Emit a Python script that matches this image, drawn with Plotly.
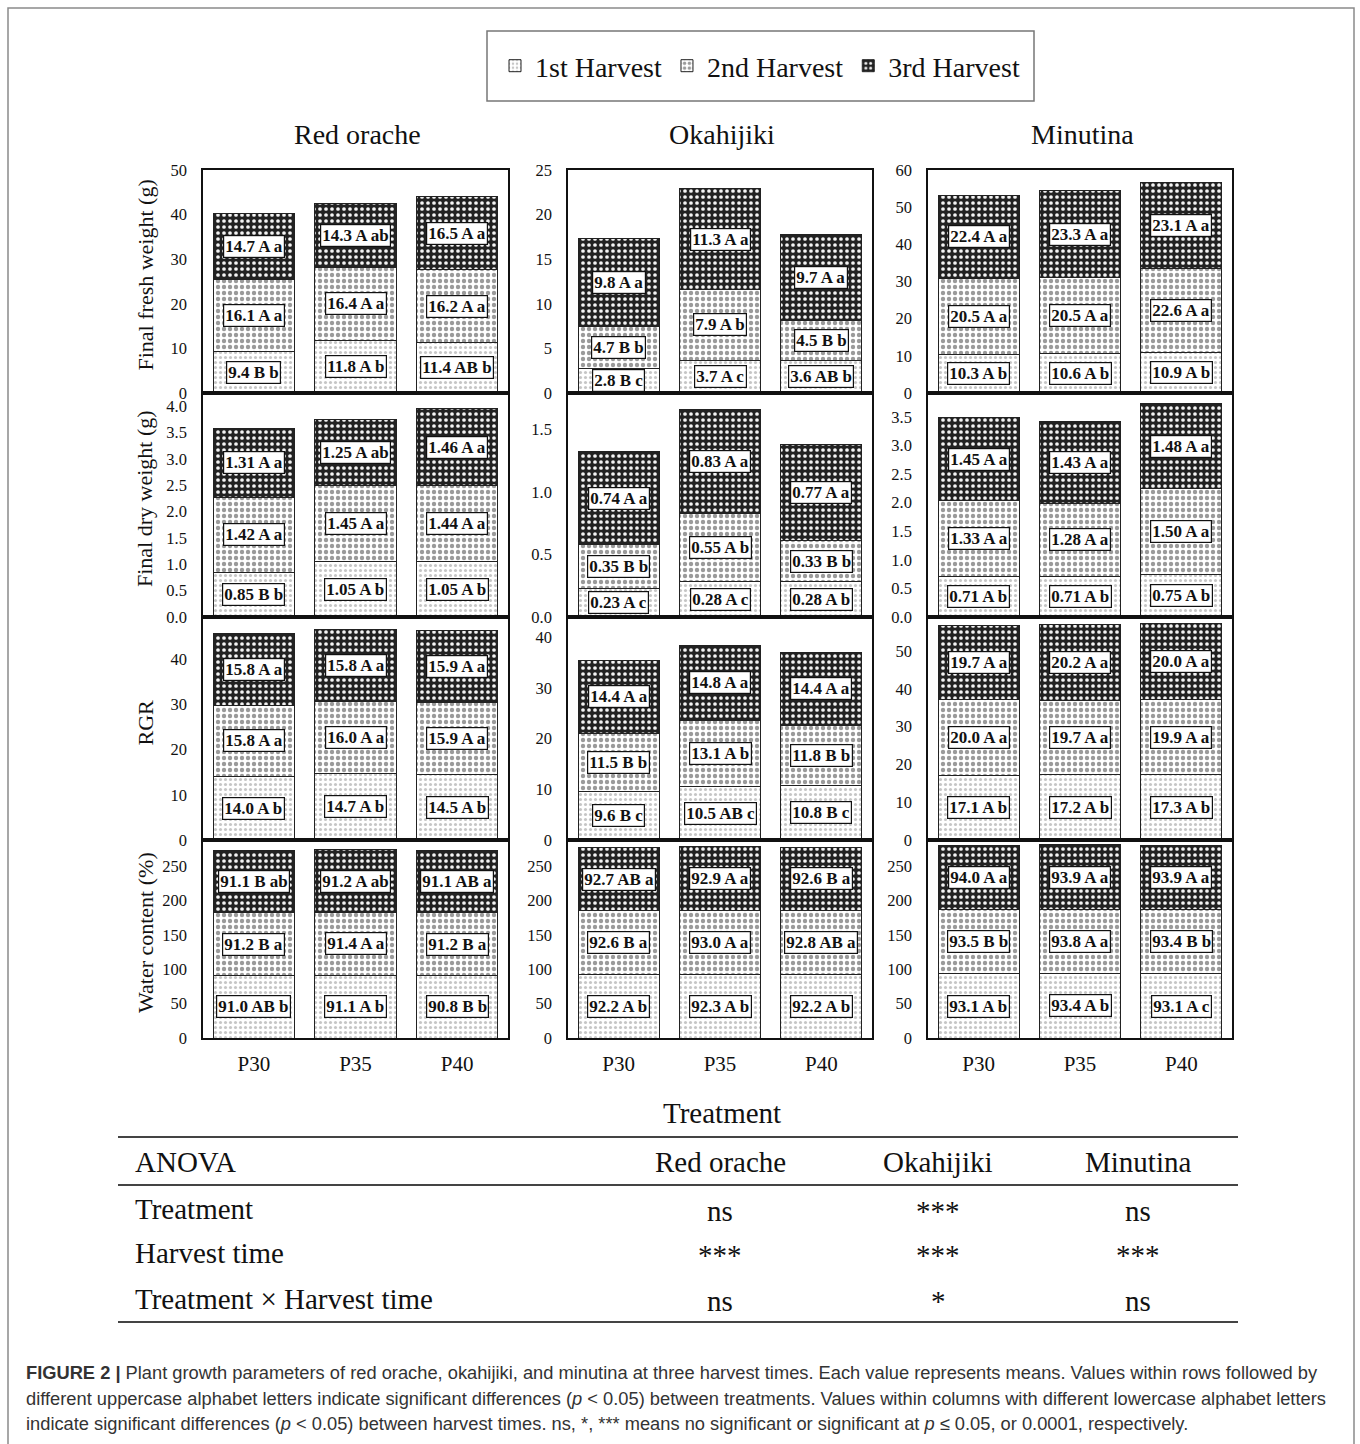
import plotly.graph_objects as go
from plotly.subplots import make_subplots

W, H = 1360, 1444

species = ["Red orache", "Okahijiki", "Minutina"]
treatments = ["P30", "P35", "P40"]
harvests = ["1st Harvest", "2nd Harvest", "3rd Harvest"]
parameters = ["Final fresh weight (g)", "Final dry weight (g)", "RGR", "Water content (%)"]
decimals = [1, 2, 1, 1]

# values are [species][harvest][treatment]
fresh_weight = [
    [[9.4, 11.8, 11.4], [16.1, 16.4, 16.2], [14.7, 14.3, 16.5]],
    [[2.8, 3.7, 3.6], [4.7, 7.9, 4.5], [9.8, 11.3, 9.7]],
    [[10.3, 10.6, 10.9], [20.5, 20.5, 22.6], [22.4, 23.3, 23.1]],
]
fresh_letters = [
    [["B b", "A b", "AB b"], ["A a", "A a", "A a"], ["A a", "A ab", "A a"]],
    [["B c", "A c", "AB b"], ["B b", "A b", "B b"], ["A a", "A a", "A a"]],
    [["A b", "A b", "A b"], ["A a", "A a", "A a"], ["A a", "A a", "A a"]],
]
dry_weight = [
    [[0.85, 1.05, 1.05], [1.42, 1.45, 1.44], [1.31, 1.25, 1.46]],
    [[0.23, 0.28, 0.28], [0.35, 0.55, 0.33], [0.74, 0.83, 0.77]],
    [[0.71, 0.71, 0.75], [1.33, 1.28, 1.50], [1.45, 1.43, 1.48]],
]
dry_letters = [
    [["B b", "A b", "A b"], ["A a", "A a", "A a"], ["A a", "A ab", "A a"]],
    [["A c", "A c", "A b"], ["B b", "A b", "B b"], ["A a", "A a", "A a"]],
    [["A b", "A b", "A b"], ["A a", "A a", "A a"], ["A a", "A a", "A a"]],
]
rgr = [
    [[14.0, 14.7, 14.5], [15.8, 16.0, 15.9], [15.8, 15.8, 15.9]],
    [[9.6, 10.5, 10.8], [11.5, 13.1, 11.8], [14.4, 14.8, 14.4]],
    [[17.1, 17.2, 17.3], [20.0, 19.7, 19.9], [19.7, 20.2, 20.0]],
]
rgr_letters = [
    [["A b", "A b", "A b"], ["A a", "A a", "A a"], ["A a", "A a", "A a"]],
    [["B c", "AB c", "B c"], ["B b", "A b", "B b"], ["A a", "A a", "A a"]],
    [["A b", "A b", "A b"], ["A a", "A a", "A a"], ["A a", "A a", "A a"]],
]
water_content = [
    [[91.0, 91.1, 90.8], [91.2, 91.4, 91.2], [91.1, 91.2, 91.1]],
    [[92.2, 92.3, 92.2], [92.6, 93.0, 92.8], [92.7, 92.9, 92.6]],
    [[93.1, 93.4, 93.1], [93.5, 93.8, 93.4], [94.0, 93.9, 93.9]],
]
water_letters = [
    [["AB b", "A b", "B b"], ["B a", "A a", "B a"], ["B ab", "A ab", "AB a"]],
    [["A b", "A b", "A b"], ["B a", "A a", "AB a"], ["AB a", "A a", "B a"]],
    [["A b", "A b", "A c"], ["B b", "A a", "B b"], ["A a", "A a", "A a"]],
]

y_max = [[50, 25, 60], [4.25, 1.79, 3.92], [49.3, 44, 59], [288, 288, 288]]
y_dtick = [[10, 5, 10], [0.5, 0.5, 0.5], [10, 10, 10], [50, 50, 50]]
y_format = ["", ".1f", "", ""]

anova_terms = ["Treatment", "Harvest time", "Treatment × Harvest time"]
anova_results = [
    ["ns", "***", "ns"],
    ["***", "***", "***"],
    ["ns", "*", "ns"],
]

caption_lines = [
    "<b>FIGURE 2 |</b> Plant growth parameters of red orache, okahijiki, and minutina at three harvest times. "
    "Each value represents means. Values within rows followed by",
    "different uppercase alphabet letters indicate significant differences (<i>p</i> &lt; 0.05) between treatments. "
    "Values within columns with different lowercase alphabet letters",
    "indicate significant differences (<i>p</i> &lt; 0.05) between harvest times. ns, *, *** means no significant "
    "or significant at <i>p</i> ≤ 0.05, or 0.0001, respectively.",
]

data_sets = [(fresh_weight, fresh_letters), (dry_weight, dry_letters),
             (rgr, rgr_letters), (water_content, water_letters)]

SERIF = "Liberation Serif, Times New Roman, serif"
SANS = "Liberation Sans, Arial, sans-serif"

patterns = [
    dict(shape=".", bgcolor="white", fgcolor="#c6c6c6", size=5, solidity=0.3),
    dict(shape=".", bgcolor="white", fgcolor="#9a9a9a", size=6, solidity=0.42),
    dict(shape=".", bgcolor="#222222", fgcolor="#f4f4f4", size=6, solidity=0.3),
]


def fx(px):
    return px / W


def fy(py):
    return 1 - py / H


def note(x, y, text, size, family=SERIF, color="#111", xanchor="center", **kw):
    return dict(x=x, y=y, xref="paper", yref="paper", text=text, showarrow=False,
                xanchor=xanchor, yanchor="middle",
                font=dict(family=family, size=size, color=color), **kw)


col_px = [(203, 508), (568, 872), (928, 1232)]
row_px = [(170, 393), (393, 617), (617, 840), (840, 1038)]

fig = make_subplots(rows=4, cols=3)

annotations = []
for r, (values, letters) in enumerate(data_sets):
    for c in range(3):
        base = [0.0, 0.0, 0.0]
        for h in range(3):
            seg = values[c][h]
            fig.add_trace(
                go.Bar(
                    x=treatments, y=seg, name=harvests[h],
                    width=0.8,
                    marker=dict(color="white", pattern=patterns[h],
                                line=dict(color="#222222", width=1)),
                    showlegend=(r == 0 and c == 0),
                    legendgroup=harvests[h],
                    hoverinfo="skip",
                ),
                row=r + 1, col=c + 1,
            )
            idx = r * 3 + c + 1
            suffix = "" if idx == 1 else str(idx)
            for t in range(3):
                mid = base[t] + seg[t] / 2
                label = f"{seg[t]:.{decimals[r]}f} {letters[c][h][t]}"
                annotations.append(dict(
                    x=treatments[t], y=mid, xref="x" + suffix, yref="y" + suffix,
                    text=f"<b>{label}</b>", showarrow=False,
                    xanchor="center", yanchor="middle",
                    font=dict(family=SERIF, size=17, color="#111"),
                    bgcolor="white", bordercolor="#111", borderwidth=1.2, borderpad=1,
                ))
                base[t] += seg[t]

        fig.update_xaxes(
            domain=[fx(col_px[c][0]), fx(col_px[c][1])], automargin=False,
            showline=True, mirror=True, linecolor="#111", linewidth=1.5,
            showgrid=False, zeroline=False, ticks="",
            showticklabels=(r == 3), ticklabelstandoff=6,
            tickfont=dict(family=SERIF, size=21, color="#111"),
            row=r + 1, col=c + 1,
        )
        fig.update_yaxes(
            domain=[fy(row_px[r][1]), fy(row_px[r][0])], automargin=False,
            range=[0, y_max[r][c]], dtick=y_dtick[r][c], tick0=0,
            tickformat=y_format[r],
            showline=True, mirror=True, linecolor="#111", linewidth=1.5,
            showgrid=False, zeroline=False, ticks="", ticklabelstandoff=11,
            tickfont=dict(family=SERIF, size=16.5, color="#111"),
            row=r + 1, col=c + 1,
        )

# y-axis titles of the left column
for r in range(4):
    annotations.append(note(fx(145), fy((row_px[r][0] + row_px[r][1]) / 2 - 6), parameters[r], 22,
                            textangle=-90))

# species titles
for c in range(3):
    annotations.append(note(fx((col_px[c][0] + col_px[c][1]) / 2 + 2), fy(134), species[c], 28))

annotations.append(note(fx(722), fy(1113), "Treatment", 29))

# ANOVA table
table_cols = [720, 938, 1138]
annotations.append(note(fx(133), fy(1162), "ANOVA", 29, xanchor="left"))
for c in range(3):
    annotations.append(note(fx(table_cols[c]), fy(1162), species[c], 29))
row_y = [1209, 1253, 1299]
for i, term in enumerate(anova_terms):
    annotations.append(note(fx(133), fy(row_y[i]), term, 29, xanchor="left"))
    for c in range(3):
        annotations.append(note(fx(table_cols[c]), fy(row_y[i] + 2), anova_results[i][c], 29))

# caption
cap_y = [1372, 1398, 1423]
for i, line in enumerate(caption_lines):
    annotations.append(note(fx(24), fy(cap_y[i]), line, 18.3, family=SANS, color="#333",
                            xanchor="left"))

shapes = [
    # outer frame
    dict(type="rect", xref="paper", yref="paper", x0=fx(8), x1=fx(1354), y0=fy(1450), y1=fy(8),
         line=dict(color="#8a8a8a", width=1.5), fillcolor="rgba(0,0,0,0)", layer="below"),
    # legend frame
    dict(type="rect", xref="paper", yref="paper", x0=fx(487), x1=fx(1034), y0=fy(101), y1=fy(31),
         line=dict(color="#777", width=1.5), fillcolor="rgba(0,0,0,0)"),
]
for ly in [1137, 1185, 1322]:
    shapes.append(dict(type="line", xref="paper", yref="paper", x0=fx(118), x1=fx(1238),
                       y0=fy(ly), y1=fy(ly), line=dict(color="#444", width=2)))

fig.update_layout(
    template="none",
    width=W, height=H, margin=dict(l=0, r=0, t=0, b=0, pad=0, autoexpand=False),
    paper_bgcolor="white", plot_bgcolor="white",
    font=dict(family=SERIF, color="#111"),
    barmode="stack",
    annotations=annotations, shapes=shapes,
    legend=dict(orientation="h", x=fx(760), xanchor="center", y=fy(66), yanchor="middle",
                font=dict(family=SERIF, size=28, color="#111"),
                bgcolor="rgba(0,0,0,0)", borderwidth=0, traceorder="normal",
                itemwidth=30),
)

fig.write_html("out.html")
